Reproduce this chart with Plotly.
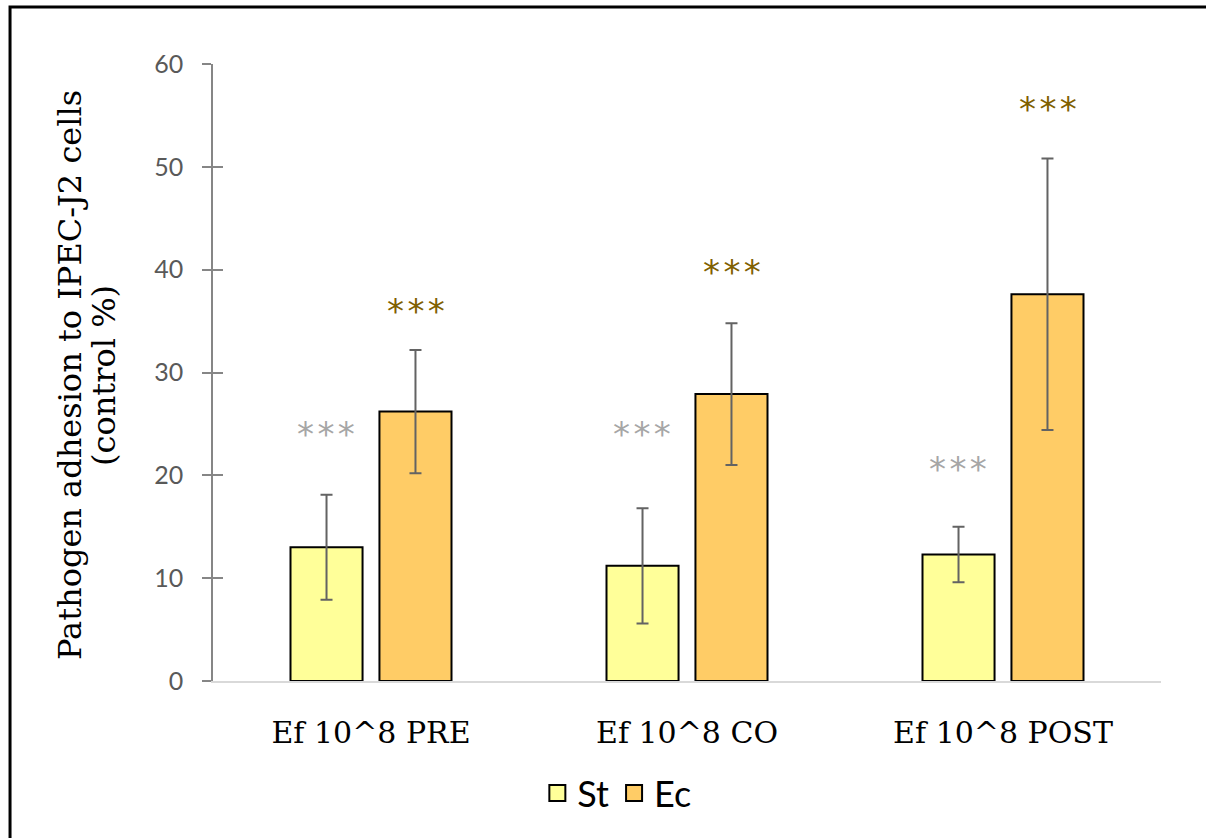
import plotly.graph_objects as go

categories = ["Ef 10^8 PRE", "Ef 10^8 CO", "Ef 10^8 POST"]
st_values = [13.0, 11.2, 12.3]
st_errors = [5.1, 5.6, 2.7]
ec_values = [26.2, 27.9, 37.6]
ec_errors = [6.0, 6.9, 13.2]
st_star_y = [24.6, 24.6, 21.2]
ec_star_y = [36.6, 40.4, 56.2]
star_text = "*\u200a*\u200a*"
y_ticks = [0, 10, 20, 30, 40, 50, 60]
y_title_lines = ["Pathogen adhesion to IPEC-J2 cells", "(control %)"]

ST_COLOR = "#FFFF99"
EC_COLOR = "#FFCC66"
SANS = "Lato, Liberation Sans, sans-serif"
SERIF = "DejaVu Serif, Liberation Serif, serif"

fig = go.Figure()
fig.add_trace(go.Bar(
    name="St", x=categories, y=st_values, showlegend=False,
    marker=dict(color=ST_COLOR, line=dict(color="black", width=2)),
    error_y=dict(type="data", array=st_errors, color="#636363", thickness=2, width=6),
))
fig.add_trace(go.Bar(
    name="Ec", x=categories, y=ec_values, showlegend=False,
    marker=dict(color=EC_COLOR, line=dict(color="black", width=2)),
    error_y=dict(type="data", array=ec_errors, color="#636363", thickness=2, width=6),
))
# legend entries
for nm, col in [("St", ST_COLOR), ("Ec", EC_COLOR)]:
    fig.add_trace(go.Scatter(
        x=[None], y=[None], mode="markers", name=nm,
        marker=dict(symbol="square", size=24, color=col, line=dict(color="black", width=2)),
    ))
# invisible trace for inner tick axis
fig.add_trace(go.Scatter(x=[categories[0]], y=[None], yaxis="y2", showlegend=False,
                         mode="markers", hoverinfo="skip"))

annotations = []
for i, c in enumerate(categories):
    annotations.append(dict(x=c, y=st_star_y[i], xref="x", yref="y", text=star_text,
                            showarrow=False, xshift=-45, yshift=-6,
                            font=dict(family="DejaVu Sans", size=34, color="#A6A6A6")))
    annotations.append(dict(x=c, y=ec_star_y[i], xref="x", yref="y", text=star_text,
                            showarrow=False, xshift=45, yshift=-6,
                            font=dict(family="DejaVu Sans", size=34, color="#7F6000")))
# y-axis title (two lines)
for j, (line, xp) in enumerate(zip(y_title_lines, [-0.1508, -0.1150])):
    annotations.append(dict(x=xp, y=0.496, xref="paper", yref="paper", text=line,
                            textangle=-90, showarrow=False, xanchor="center", yanchor="middle",
                            font=dict(family=SERIF, size=32, color="black")))

fig.update_layout(
    width=1206, height=838,
    margin=dict(l=213, r=45, t=64, b=157),
    paper_bgcolor="white", plot_bgcolor="white",
    barmode="group", bargap=0.437, bargroupgap=0.19,
    annotations=annotations,
    legend=dict(orientation="h", x=0.426, xanchor="center", y=-0.1815, yanchor="middle",
                font=dict(family=SANS, size=36, color="black"), itemsizing="trace"),
    xaxis=dict(
        showgrid=False, showline=True, linecolor="#D9D9D9", linewidth=2,
        ticks="", tickfont=dict(family=SERIF, size=30, color="black"),
        ticklabelstandoff=24,
    ),
    yaxis=dict(
        range=[0, 60], tickvals=y_ticks, showgrid=False, zeroline=False,
        showline=True, linecolor="#868686", linewidth=1.5,
        ticks="outside", ticklen=9, tickwidth=1.5, tickcolor="#868686",
        tickfont=dict(family=SANS, size=25, color="#595959"), ticklabelstandoff=14,
    ),
    yaxis2=dict(
        range=[0, 60], tickvals=y_ticks, overlaying="y", side="left",
        showgrid=False, zeroline=False, showline=False, showticklabels=False,
        ticks="inside", ticklen=10, tickwidth=1.5, tickcolor="#868686",
    ),
    shapes=[dict(type="rect", xref="paper", yref="paper",
                 x0=-0.2141, x1=1.06, y0=-0.28, y1=1.0924,
                 line=dict(color="black", width=3), fillcolor="rgba(0,0,0,0)", layer="above")],
)

fig.write_html("out.html")
